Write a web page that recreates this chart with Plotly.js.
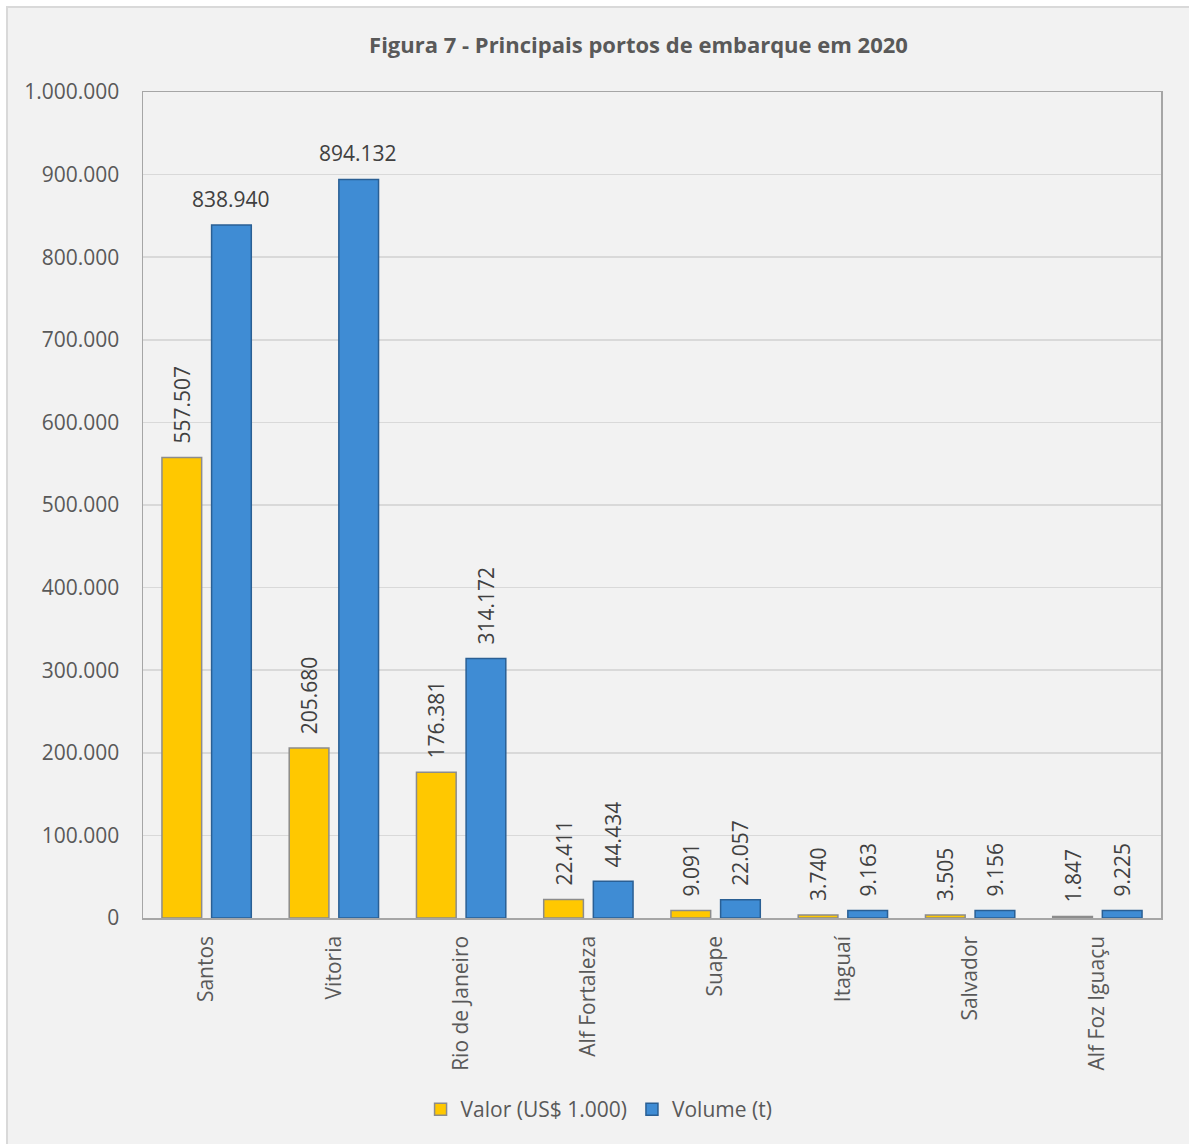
<!DOCTYPE html>
<html>
<head>
<meta charset="utf-8">
<script src="https://cdn.plot.ly/plotly-3.0.1.min.js"></script>
<style>
  html, body { margin:0; padding:0; background:#ffffff; }
  #frame { position:absolute; left:6px; top:6px; width:1200px; height:1160px;
           background:#f2f2f2; border-left:2px solid #d9d9d9; border-top:2px solid #d9d9d9; }
  #chart { position:absolute; left:0; top:0; width:1189px; height:1144px; }
</style>
</head>
<body>
<div id="frame"></div>
<div id="chart"></div>
<script>
const portos = ["Santos", "Vitoria", "Rio de Janeiro", "Alf Fortaleza", "Suape", "Itaguaí", "Salvador", "Alf Foz Iguaçu"];
const valor = [557507, 205680, 176381, 22411, 9091, 3740, 3505, 1847];
const volume = [838940, 894132, 314172, 44434, 22057, 9163, 9156, 9225];
const horizontalVolumeLabels = ["Santos", "Vitoria"];
const yTicks = [0, 100000, 200000, 300000, 400000, 500000, 600000, 700000, 800000, 900000, 1000000];

function fmt(v) { return String(v).replace(/\B(?=(\d{3})+(?!\d))/g, "."); }
const PAD = "\u00a0\u00a0";

const FONT = "Open Sans, Noto Sans, sans-serif";
const FS = 21;

const traceValor = {
  type: "bar", name: "Valor (US$ 1.000)", x: portos, y: valor,
  text: valor.map(v => PAD + fmt(v)), textposition: "outside", textangle: -90,
  constraintext: "none", cliponaxis: false,
  textfont: { family: FONT, size: FS, color: "#404040" },
  marker: { color: "#ffc800", line: { color: "#8c8c8c", width: 1.5 } },
  hoverinfo: "x+y"
};
const traceVolume = {
  type: "bar", name: "Volume (t)", x: portos, y: volume,
  text: volume.map((v, i) => horizontalVolumeLabels.includes(portos[i]) ? "" : PAD + fmt(v)),
  textposition: "outside", textangle: -90,
  constraintext: "none", cliponaxis: false,
  textfont: { family: FONT, size: FS, color: "#404040" },
  marker: { color: "#3f8cd4", line: { color: "#2a5f94", width: 1.5 } },
  hoverinfo: "x+y"
};

const annotations = portos.map((p, i) => horizontalVolumeLabels.includes(p) ? {
  x: p, y: volume[i], xref: "x", yref: "y", text: fmt(volume[i]),
  showarrow: false, xshift: 24, yshift: 10, yanchor: "bottom",
  font: { family: FONT, size: FS, color: "#404040" }
} : null).filter(a => a);

const layout = {
  width: 1189, height: 1144,
  margin: { l: 143, r: 28, t: 92, b: 226, pad: 0 },
  paper_bgcolor: "rgba(0,0,0,0)", plot_bgcolor: "#f2f2f2",
  separators: ",.",
  barmode: "group", bargap: 0.22, bargroupgap: 0.2,
  title: {
    text: "<b>Figura 7 - Principais portos de embarque em 2020</b>",
    x: 0.537, xref: "container", xanchor: "center",
    y: 1 - 45 / 1144, yref: "container", yanchor: "middle",
    font: { family: FONT, size: 22, color: "#595959" }
  },
  xaxis: {
    type: "category", tickangle: -90, showgrid: false,
    showline: true, linecolor: "#a6a6a6", linewidth: 1.5, mirror: true,
    ticks: "", ticklen: 0, ticklabelstandoff: 8,
    tickfont: { family: FONT, size: FS, color: "#595959" }
  },
  yaxis: {
    range: [0, 1000000], tickvals: yTicks, ticktext: yTicks.map(fmt),
    showgrid: true, gridcolor: "#d9d9d9", gridwidth: 1.5,
    showline: true, linecolor: "#a6a6a6", linewidth: 1.5, mirror: true,
    zeroline: false, ticks: "", ticklen: 0, ticklabelstandoff: 18,
    tickfont: { family: FONT, size: FS, color: "#595959" }
  },
  legend: {
    orientation: "h", x: 0.448, xanchor: "center", y: -0.232, yanchor: "middle",
    font: { family: FONT, size: FS, color: "#595959" },
    bgcolor: "rgba(0,0,0,0)", itemwidth: 30, traceorder: "normal"
  },
  annotations: annotations,
  showlegend: true
};

Plotly.newPlot("chart", [traceValor, traceVolume], layout, { displayModeBar: false, staticPlot: true });
</script>
</body>
</html>
